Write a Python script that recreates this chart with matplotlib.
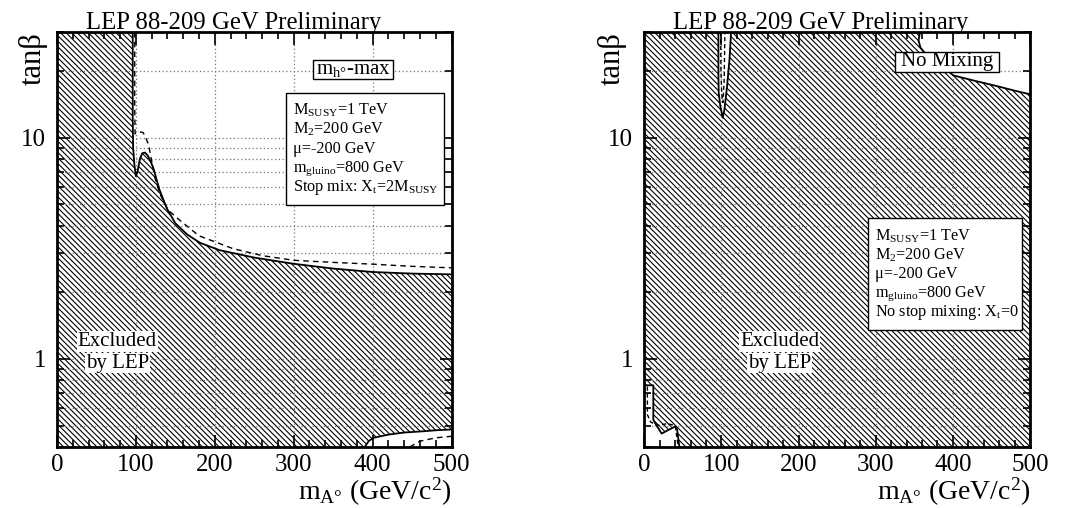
import numpy as np
import matplotlib
matplotlib.use("Agg")
import matplotlib.pyplot as plt
from matplotlib.patches import Rectangle
from matplotlib.ticker import LogLocator, NullFormatter, FixedLocator, MultipleLocator, FixedFormatter

plt.rcParams["font.family"] = ["Liberation Serif", "DejaVu Serif"]
plt.rcParams["mathtext.fontset"] = "custom"
plt.rcParams["mathtext.rm"] = "Liberation Serif"
plt.rcParams["mathtext.it"] = "Liberation Serif:italic"
plt.rcParams["hatch.linewidth"] = 0.8

HATCH = "\\" * 6

# ---- m_h-max panel (left) ----
mhmax_obs_x = [96, 96, 96.5, 98, 100, 102, 105, 108, 111.5, 115, 118, 122, 130, 139, 150,
               165, 181, 206, 250, 300, 350, 400, 450, 500]
mhmax_obs_y = [30, 12, 9.0, 7.6, 6.7, 7.0, 8.0, 8.5, 8.56, 8.3, 7.9, 7.3, 5.8, 4.8, 4.1,
               3.65, 3.35, 3.1, 2.87, 2.69, 2.56, 2.47, 2.43, 2.41]
mhmax_exp_x = [98.5, 98.5, 99, 101, 103, 106, 109, 112, 116, 120, 124, 130, 141, 156, 180,
               223, 260, 300, 350, 400, 450, 500]
mhmax_exp_y = [30, 14, 10.4, 10.5, 10.55, 10.6, 10.55, 10.1, 9.3, 7.85, 6.6, 5.6, 4.7, 4.22, 3.6,
               3.15, 2.93, 2.79, 2.73, 2.68, 2.62, 2.58]
mhmax_low_obs_x = [390, 395, 401, 420, 440, 464, 480, 500]
mhmax_low_obs_y = [0.40, 0.425, 0.44, 0.455, 0.465, 0.471, 0.476, 0.48]
mhmax_low_exp_x = [447, 460, 480, 500]
mhmax_low_exp_y = [0.40, 0.425, 0.44, 0.447]

# ---- no mixing panel (right) ----
nomix_sliver_x = [96.1, 96.1, 96.5, 98.5, 101.7, 103.9, 107.3, 110.4, 112.5]
nomix_sliver_y = [30, 19, 15.9, 13.9, 12.3, 13.4, 17.1, 22.5, 30]
nomix_sliver_exp_x = [99, 99.3, 100.5, 102, 103.5, 104.5]
nomix_sliver_exp_y = [30, 20, 15.5, 14.4, 18, 30]
nomix_top_x = [357.4, 355.5, 358, 362, 375, 390, 400.6, 430, 456.8, 480, 500]
nomix_top_y = [30, 27.5, 25.5, 24.5, 22.5, 20.5, 19.1, 18.0, 17.1, 16.3, 15.7]
nomix_low_x = [0, 11.7, 11.7, 16, 22.5, 30, 40, 42.5, 45.5]
nomix_low_y = [0.76, 0.76, 0.53, 0.50, 0.46, 0.475, 0.495, 0.48, 0.40]
nomix_low_exp_x = [4, 4, 8, 16, 30, 40, 44]
nomix_low_exp_y = [0.75, 0.56, 0.52, 0.50, 0.51, 0.50, 0.40]

XMIN, XMAX = 0, 500
YMIN, YMAX = 0.4, 30

title = "LEP 88-209 GeV Preliminary"
params_common = [r"M$_{\mathrm{SUSY}}$=1 TeV", r"M$_{2}$=200 GeV", "\u03bc=-200 GeV",
                 r"m$_{\mathrm{gluino}}$=800 GeV"]
mhmax_params = params_common + [r"Stop mix: X$_{\mathrm{t}}$=2M$_{\mathrm{SUSY}}$"]
nomix_params = params_common + [r"No stop mixing: X$_{\mathrm{t}}$=0"]


def setup_axes(ax):
    ax.set_yscale("log")
    ax.set_xlim(XMIN, XMAX)
    ax.set_ylim(YMIN, YMAX)
    ax.xaxis.set_major_locator(MultipleLocator(100))
    ax.xaxis.set_minor_locator(MultipleLocator(20))
    ax.yaxis.set_major_locator(FixedLocator([1, 10]))
    ax.yaxis.set_major_formatter(FixedFormatter(["1", "10"]))
    ax.yaxis.set_minor_locator(LogLocator(base=10, subs=np.arange(2, 10)))
    ax.yaxis.set_minor_formatter(NullFormatter())
    ax.tick_params(which="both", direction="in", top=True, right=True, width=1.2)
    ax.tick_params(which="major", length=9, labelsize=18, pad=5)
    ax.tick_params(axis="y", which="major", pad=8)
    ax.tick_params(which="minor", length=5)
    for s in ax.spines.values():
        s.set_linewidth(2)
    ax.grid(True, which="both", color="#777777", linestyle=(0, (1, 2)), linewidth=0.9)
    ax.grid(False, which="minor", axis="x")
    # whole plane hatched, allowed regions cut out in white
    ax.fill_between([XMIN, XMAX], YMIN, YMAX, facecolor="none", edgecolor="black",
                    linewidth=0, hatch=HATCH, zorder=0.6)


def decorate(ax, label, label_box, params, params_box, excl_x, ylab_x):
    ax.text(0.074, 1.008, title, transform=ax.transAxes, ha="left", va="baseline", fontsize=17.8)
    ax.text(ylab_x, 1.0, "tan\u03b2", transform=ax.transAxes, rotation=90,
            ha="center", va="top", fontsize=22)
    ax.text(1.0, -0.128, r"m$_{\mathrm{A°}}$ (GeV/c$^{2}$)", transform=ax.transAxes,
            ha="right", va="baseline", fontsize=20)
    # model label
    lx0, ly0, lx1, ly1 = label_box
    ax.add_patch(Rectangle((lx0, ly0), lx1 - lx0, ly1 - ly0, transform=ax.transAxes,
                           facecolor="white", edgecolor="black", linewidth=1, zorder=5))
    ax.text((lx0 + lx1) / 2, (ly0 + ly1) / 2, label, transform=ax.transAxes,
            ha="center", va="center", fontsize=15, zorder=6)
    # parameter box
    px0, py0, px1, py1 = params_box
    ax.add_patch(Rectangle((px0, py0), px1 - px0, py1 - py0, transform=ax.transAxes,
                           facecolor="white", edgecolor="black", linewidth=1, zorder=5))
    for i, line in enumerate(params):
        ax.text(px0 + 0.018, py1 - 0.053 - i * 0.0455, line, transform=ax.transAxes,
                ha="left", va="baseline", fontsize=11.7, zorder=6)
    for txt, yy in (("Excluded", 0.254), ("by LEP", 0.202)):
        ax.text(excl_x, yy, txt, transform=ax.transAxes, ha="center", va="center",
                fontsize=15, zorder=6,
                bbox=dict(facecolor="white", edgecolor="none", pad=0.5))


fig = plt.figure(figsize=(10.65, 5.08), dpi=100)

# left panel
ax1 = fig.add_axes([57 / 1065, 61 / 508, 394.5 / 1065, 415 / 508])
setup_axes(ax1)
ax1.fill_between(mhmax_obs_x, mhmax_obs_y, YMAX, facecolor="white", linewidth=0, zorder=0.8)
ax1.fill_between(mhmax_low_obs_x, YMIN, mhmax_low_obs_y, facecolor="white", linewidth=0, zorder=0.8)
ax1.plot(mhmax_obs_x, mhmax_obs_y, color="black", lw=1.3, zorder=3)
ax1.plot(mhmax_exp_x, mhmax_exp_y, color="black", lw=1.0, ls=(0, (4, 3)), zorder=3)
ax1.plot(mhmax_low_obs_x, mhmax_low_obs_y, color="black", lw=1.3, zorder=3)
ax1.plot(mhmax_low_exp_x, mhmax_low_exp_y, color="black", lw=1.0, ls=(0, (4, 3)), zorder=3)
decorate(ax1, r"m$_{\mathrm{h°}}$-max", (0.649, 0.887, 0.852, 0.933),
         mhmax_params, (0.580, 0.583, 0.981, 0.853), 0.153, -0.061)

# right panel
ax2 = fig.add_axes([644.3 / 1065, 61 / 508, 385.7 / 1065, 415 / 508])
setup_axes(ax2)
ax2.fill(nomix_sliver_x, nomix_sliver_y, facecolor="white", linewidth=0, zorder=0.8)
ax2.fill_between(nomix_top_x, nomix_top_y, YMAX, facecolor="white", linewidth=0, zorder=0.8)
ax2.fill_between(nomix_low_x, YMIN, nomix_low_y, facecolor="white", linewidth=0, zorder=0.8)
ax2.plot(nomix_sliver_x, nomix_sliver_y, color="black", lw=1.3, zorder=3)
ax2.plot(nomix_sliver_exp_x, nomix_sliver_exp_y, color="black", lw=1.0, ls=(0, (3, 2)), zorder=3)
ax2.plot(nomix_top_x, nomix_top_y, color="black", lw=1.3, zorder=3)
ax2.plot(nomix_low_x, nomix_low_y, color="black", lw=1.3, zorder=3)
ax2.plot(nomix_low_exp_x, nomix_low_exp_y, color="black", lw=1.0, ls=(0, (3, 2)), zorder=3)
decorate(ax2, "No Mixing", (0.650, 0.904, 0.920, 0.953),
         nomix_params, (0.581, 0.282, 0.978, 0.551), 0.351, -0.084)

fig.savefig("out.png", dpi=100)
